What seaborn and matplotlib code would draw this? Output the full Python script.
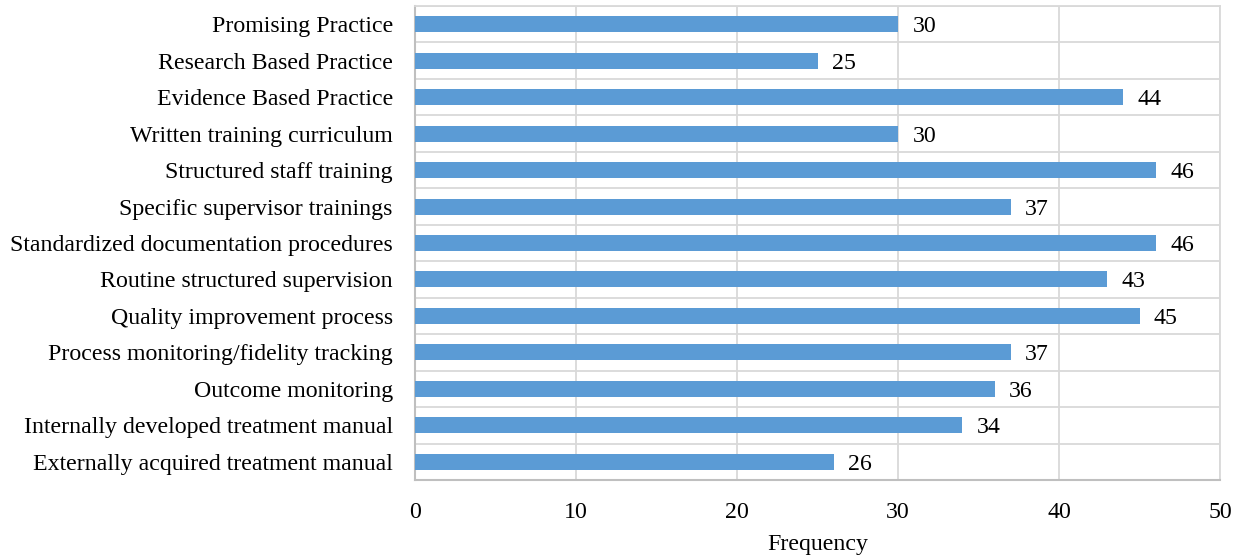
import numpy as np
import pandas as pd
import seaborn as sns
import matplotlib.pyplot as plt
from matplotlib.ticker import FixedLocator

# --------------------------
# Dados
# --------------------------
categorias = [
    'Promising Practice',
    'Research Based Practice',
    'Evidence Based Practice',
    'Written training curriculum',
    'Structured staff training',
    'Specific supervisor trainings',
    'Standardized documentation procedures',
    'Routine structured supervision',
    'Quality improvement process',
    'Process monitoring/fidelity tracking',
    'Outcome monitoring',
    'Internally developed treatment manual',
    'Externally acquired treatment manual',
]
frequencias = [30, 25, 44, 30, 46, 37, 46, 43, 45, 37, 36, 34, 26]

df = pd.DataFrame({'Categoria': categorias, 'Frequency': frequencias})

# --------------------------
# Estilo
# --------------------------
sns.set_style('white')
plt.rcParams['font.family'] = ['Liberation Serif', 'DejaVu Serif']
plt.rcParams['text.color'] = 'black'
plt.rcParams['xtick.color'] = 'black'
plt.rcParams['ytick.color'] = 'black'
plt.rcParams['axes.labelcolor'] = 'black'

COR_BARRA = '#5B9BD5'
COR_GRADE = '#D9D9D9'
COR_EIXO = '#BFBFBF'
FS = 17.2

fig = plt.figure(figsize=(12.44, 5.59), dpi=100)
ax = fig.add_axes([415 / 1244, 1 - 480 / 559, (1220 - 415) / 1244, (480 - 6) / 559])

sns.barplot(data=df, x='Frequency', y='Categoria', color=COR_BARRA,
            width=0.44, orient='h', ax=ax, zorder=3, saturation=1, linewidth=0)

ax.set_xlim(0, 50)
ax.set_ylim(len(categorias) - 0.5, -0.5)
ax.set_xticks([0, 10, 20, 30, 40, 50])

# grade vertical + linhas entre categorias
ax.yaxis.set_minor_locator(FixedLocator(np.arange(-0.5, len(categorias), 1)))
ax.grid(axis='x', which='major', color=COR_GRADE, linewidth=1.3, zorder=0)
ax.grid(axis='y', which='minor', color=COR_GRADE, linewidth=1.3, zorder=0)
ax.grid(axis='y', which='major', visible=False)
ax.set_axisbelow(True)

for lado in ['top', 'right']:
    ax.spines[lado].set_color(COR_GRADE)
    ax.spines[lado].set_linewidth(1.3)
for lado in ['left', 'bottom']:
    ax.spines[lado].set_color(COR_EIXO)
    ax.spines[lado].set_linewidth(1.5)

ax.tick_params(axis='both', which='both', length=0, labelsize=FS)
ax.tick_params(axis='y', pad=16)
ax.tick_params(axis='x', pad=16)
ax.set_ylabel('')
ax.set_xlabel('Frequency', fontsize=FS, labelpad=8)

# valores ao final da barra
for i, v in enumerate(frequencias):
    ax.text(v + 0.9, i, f'{v}', va='center_baseline', ha='left', fontsize=FS, zorder=4)

fig.savefig('out.png', dpi=100)
